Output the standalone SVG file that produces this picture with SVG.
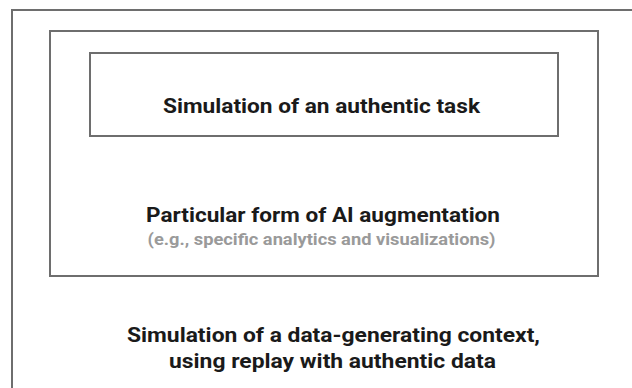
<svg xmlns="http://www.w3.org/2000/svg" width="632" height="388" viewBox="0 0 632 388">
<style>
.box{fill:none;stroke:#6e6e6e;stroke-width:2}
.t{font-family:Roboto,"Liberation Sans",sans-serif;font-weight:700;font-size:21px;fill:#1a1a1a;text-anchor:middle}
.s{font-family:Roboto,"Liberation Sans",sans-serif;font-weight:700;font-size:16px;fill:#9a9a9a;text-anchor:middle}
</style>
<rect width="632" height="388" fill="#ffffff"/>
<g id="outer">
<rect class="box" x="12" y="10" width="640" height="400"/>
<text class="t" x="333.5" y="342" textLength="413" lengthAdjust="spacingAndGlyphs">Simulation of a data-generating context,</text>
<text class="t" x="332.5" y="368" textLength="327" lengthAdjust="spacingAndGlyphs">using replay with authentic data</text>
</g>
<g id="middle">
<rect class="box" x="50" y="31" width="548" height="245"/>
<text class="t" x="323" y="222" textLength="354" lengthAdjust="spacingAndGlyphs">Particular form of AI augmentation</text>
<text class="s" x="321.5" y="245" textLength="348" lengthAdjust="spacingAndGlyphs">(e.g., specific analytics and visualizations)</text>
</g>
<g id="inner">
<rect class="box" x="90" y="53" width="468" height="83"/>
<text class="t" x="321.5" y="113" textLength="317" lengthAdjust="spacingAndGlyphs">Simulation of an authentic task</text>
</g>
<g id="connectors"/>
</svg>
